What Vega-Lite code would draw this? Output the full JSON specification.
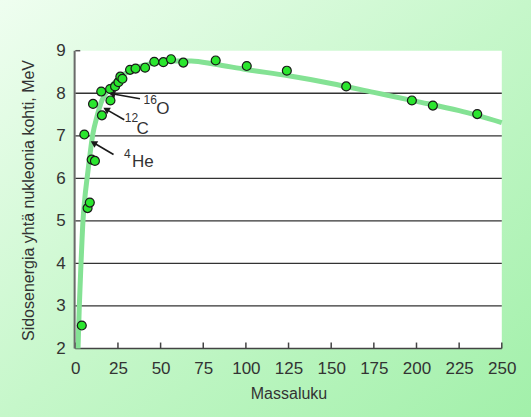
{
  "$schema": "https://vega.github.io/schema/vega-lite/v6.json",
  "width": 531,
  "height": 417,
  "autosize": {"type": "none"},
  "padding": 0,
  "background": "#c8f7cc",
  "config": {
    "view": {
      "stroke": null,
      "fill": {
        "gradient": "linear",
        "x1": 0, "y1": 0, "x2": 1, "y2": 1,
        "stops": [
          {"offset": 0, "color": "#effef0"},
          {"offset": 0.5, "color": "#c6f7ca"},
          {"offset": 1, "color": "#a2f0aa"}
        ]
      }
    },
    "font": "Liberation Sans",
    "text": {"font": "Liberation Sans", "color": "#333333"}
  },
  "datasets": {
    "nuclides": [
      {"a": 3.8, "e": 2.54}, {"a": 5.3, "e": 7.03}, {"a": 7.2, "e": 5.30}, {"a": 8.5, "e": 5.43},
      {"a": 9.6, "e": 6.44}, {"a": 11.5, "e": 6.41}, {"a": 10.4, "e": 7.75}, {"a": 15.6, "e": 7.48},
      {"a": 15.2, "e": 8.04}, {"a": 20.6, "e": 7.83}, {"a": 20.4, "e": 8.10}, {"a": 23.3, "e": 8.16},
      {"a": 25.3, "e": 8.26}, {"a": 26.4, "e": 8.39}, {"a": 27.6, "e": 8.34}, {"a": 32.1, "e": 8.55},
      {"a": 35.3, "e": 8.58}, {"a": 40.9, "e": 8.60}, {"a": 46.3, "e": 8.74}, {"a": 51.6, "e": 8.73},
      {"a": 56.1, "e": 8.80}, {"a": 63.3, "e": 8.72}, {"a": 82.3, "e": 8.77}, {"a": 100.5, "e": 8.64},
      {"a": 124, "e": 8.53}, {"a": 158.8, "e": 8.16}, {"a": 197.3, "e": 7.83}, {"a": 209.6, "e": 7.71},
      {"a": 235.6, "e": 7.51}
    ],
    "trend": [
      {"a": 1.6, "e": 2.0}, {"a": 2.35, "e": 3.0}, {"a": 3.35, "e": 4.0}, {"a": 4.5, "e": 5.0},
      {"a": 5.5, "e": 5.5}, {"a": 6.9, "e": 6.0}, {"a": 8.2, "e": 6.43}, {"a": 10.2, "e": 7.02},
      {"a": 12.7, "e": 7.45}, {"a": 15.7, "e": 7.84}, {"a": 18.8, "e": 8.05}, {"a": 23, "e": 8.25},
      {"a": 28, "e": 8.43}, {"a": 35, "e": 8.59}, {"a": 45, "e": 8.70}, {"a": 57, "e": 8.76},
      {"a": 68, "e": 8.76}, {"a": 82, "e": 8.68}, {"a": 100, "e": 8.56}, {"a": 125, "e": 8.41},
      {"a": 150, "e": 8.23}, {"a": 175, "e": 8.02}, {"a": 200, "e": 7.81}, {"a": 225, "e": 7.59},
      {"a": 250, "e": 7.31}
    ],
    "plotArea": [{"a": 0, "a2": 250, "e": 2, "e2": 9}],
    "gridLevels": [
      {"a": 0, "a2": 250, "e": 3}, {"a": 0, "a2": 250, "e": 4}, {"a": 0, "a2": 250, "e": 5},
      {"a": 0, "a2": 250, "e": 6}, {"a": 0, "a2": 250, "e": 7}, {"a": 0, "a2": 250, "e": 8}
    ],
    "xAxisLine": [{"a": 0, "a2": 250, "e": 2}],
    "yAxisLine": [{"a": -0.4, "e": 2, "e2": 9}],
    "xTicks": [
      {"a": 0, "e": 2, "e2": 2.14}, {"a": 25, "e": 2, "e2": 2.14}, {"a": 50, "e": 2, "e2": 2.14},
      {"a": 75, "e": 2, "e2": 2.14}, {"a": 100, "e": 2, "e2": 2.14}, {"a": 125, "e": 2, "e2": 2.14},
      {"a": 150, "e": 2, "e2": 2.14}, {"a": 175, "e": 2, "e2": 2.14}, {"a": 200, "e": 2, "e2": 2.14},
      {"a": 225, "e": 2, "e2": 2.14}, {"a": 250, "e": 2, "e2": 2.14}
    ],
    "yTicks": [{"a": 0, "a2": 2.9, "e": 9}],
    "arrows": [
      {"iso": "He", "a": 22.4, "e": 6.56, "a2": 10.7, "e2": 6.835},
      {"iso": "C", "a": 28.7, "e": 7.378, "a2": 18.1, "e2": 7.622},
      {"iso": "O", "a": 37.9, "e": 7.869, "a2": 21.5, "e2": 7.987}
    ],
    "symbols": [
      {"text": "He", "a": 33.2, "e": 6.273},
      {"text": "C", "a": 35.8, "e": 7.035},
      {"text": "O", "a": 47.5, "e": 7.505}
    ],
    "massnumbers": [
      {"text": "4", "a": 28.5, "e": 6.485},
      {"text": "12", "a": 29.0, "e": 7.317},
      {"text": "16", "a": 40.0, "e": 7.74}
    ]
  },
  "encoding": {
    "x": {
      "field": "a",
      "type": "quantitative",
      "scale": {"domain": [-44.14, 267.12], "nice": false, "zero": false},
      "axis": {
        "title": "Massaluku",
        "titleFont": "Liberation Sans",
        "titleFontSize": 16,
        "titleFontWeight": "normal",
        "titleColor": "#333333",
        "titleX": 288.5,
        "titleY": 49.5,
        "titleAlign": "center",
        "titleBaseline": "alphabetic",
        "values": [0, 25, 50, 75, 100, 125, 150, 175, 200, 225, 250],
        "offset": -68.5,
        "domain": false,
        "grid": false,
        "ticks": false,
        "labelPadding": 12,
        "labelFont": "Liberation Sans",
        "labelFontSize": 17,
        "labelColor": "#333333",
        "labelBaseline": "top",
        "labelFlush": false,
        "labelOverlap": false
      }
    },
    "y": {
      "field": "e",
      "type": "quantitative",
      "scale": {"domain": [0.39, 10.192], "nice": false, "zero": false},
      "axis": {
        "title": "Sidosenergia yhtä nukleonia kohti, MeV",
        "titleFont": "Liberation Sans",
        "titleFontSize": 16,
        "titleFontWeight": "normal",
        "titleColor": "#333333",
        "titleAngle": -90,
        "titleX": -42.3,
        "titleY": 200,
        "titleAlign": "center",
        "titleBaseline": "alphabetic",
        "values": [2, 3, 4, 5, 6, 7, 8, 9],
        "offset": -75.3,
        "domain": false,
        "grid": false,
        "ticks": false,
        "labelPadding": 10,
        "labelFont": "Liberation Sans",
        "labelFontSize": 17,
        "labelColor": "#333333",
        "labelFlush": false,
        "labelOverlap": false
      }
    }
  },
  "layer": [
    {
      "data": {"name": "plotArea"},
      "mark": {"type": "rect", "fill": "white"},
      "encoding": {"x2": {"field": "a2"}, "y2": {"field": "e2"}}
    },
    {
      "data": {"name": "gridLevels"},
      "mark": {"type": "rule", "color": "#333333", "strokeWidth": 1.3},
      "encoding": {"x2": {"field": "a2"}}
    },
    {
      "data": {"name": "xAxisLine"},
      "mark": {"type": "rule", "color": "#444444", "strokeWidth": 1.5},
      "encoding": {"x2": {"field": "a2"}}
    },
    {
      "data": {"name": "xTicks"},
      "mark": {"type": "rule", "color": "#444444", "strokeWidth": 1.5},
      "encoding": {"y2": {"field": "e2"}}
    },
    {
      "data": {"name": "yTicks"},
      "mark": {"type": "rule", "color": "#555555", "strokeWidth": 1.5},
      "encoding": {"x2": {"field": "a2"}}
    },
    {
      "data": {"name": "trend"},
      "mark": {"type": "line", "color": "#84e294", "strokeWidth": 5, "interpolate": "monotone", "strokeCap": "butt"}
    },
    {
      "data": {"name": "yAxisLine"},
      "mark": {"type": "rule", "color": "#6a6a6a", "strokeWidth": 2},
      "encoding": {"y2": {"field": "e2"}}
    },
    {
      "data": {"name": "nuclides"},
      "mark": {"type": "point", "filled": true, "fill": "#2ae62e", "stroke": "#1a1a1a", "strokeWidth": 1.2, "size": 80, "opacity": 1}
    },
    {
      "data": {"name": "arrows"},
      "mark": {"type": "rule", "color": "#1a1a1a", "strokeWidth": 1.6},
      "encoding": {
        "x2": {"field": "a2"},
        "y2": {"field": "e2"}
      }
    },
    {
      "data": {"name": "arrows"},
      "transform": [{"filter": "datum.iso !== 'O'"}],
      "mark": {"type": "point", "shape": "triangle-up", "filled": true, "color": "#1a1a1a", "size": 55, "angle": 300, "opacity": 1},
      "encoding": {
        "x": {"field": "a2", "type": "quantitative"},
        "y": {"field": "e2", "type": "quantitative"}
      }
    },
    {
      "data": {"name": "arrows"},
      "transform": [{"filter": "datum.iso === 'O'"}],
      "mark": {"type": "point", "shape": "triangle-up", "filled": true, "color": "#1a1a1a", "size": 55, "angle": 280, "opacity": 1},
      "encoding": {
        "x": {"field": "a2", "type": "quantitative"},
        "y": {"field": "e2", "type": "quantitative"}
      }
    },
    {
      "data": {"name": "symbols"},
      "mark": {"type": "text", "align": "left", "baseline": "alphabetic", "fontSize": 17, "color": "#333333"},
      "encoding": {"text": {"field": "text"}}
    },
    {
      "data": {"name": "massnumbers"},
      "mark": {"type": "text", "align": "left", "baseline": "alphabetic", "fontSize": 12, "color": "#333333"},
      "encoding": {"text": {"field": "text"}}
    }
  ]
}
